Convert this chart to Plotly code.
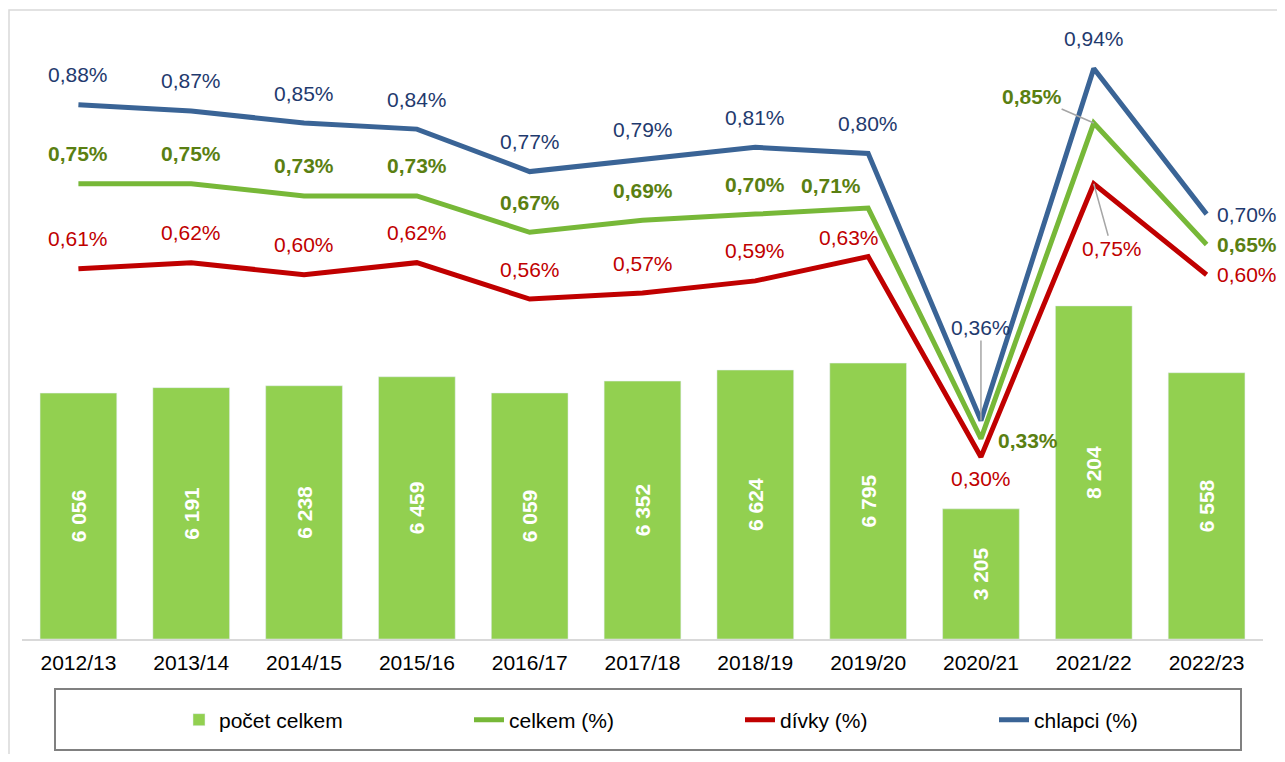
import plotly.graph_objects as go

# ---- data ----
years = ["2012/13", "2013/14", "2014/15", "2015/16", "2016/17", "2017/18",
         "2018/19", "2019/20", "2020/21", "2021/22", "2022/23"]
pocet_celkem = [6056, 6191, 6238, 6459, 6059, 6352, 6624, 6795, 3205, 8204, 6558]
celkem_pct = [0.75, 0.75, 0.73, 0.73, 0.67, 0.69, 0.70, 0.71, 0.33, 0.85, 0.65]
divky_pct = [0.61, 0.62, 0.60, 0.62, 0.56, 0.57, 0.59, 0.63, 0.30, 0.75, 0.60]
chlapci_pct = [0.88, 0.87, 0.85, 0.84, 0.77, 0.79, 0.81, 0.80, 0.36, 0.94, 0.70]

# ---- styles ----
FONT = "Liberation Sans, Arial, sans-serif"
BAR_C = "#92D050"
GREEN_L, GREEN_T = "#77B838", "#5A7F12"
RED_L, RED_T = "#C00000", "#C00000"
BLUE_L, BLUE_T = "#3A6496", "#1F3A6E"

OFF = 8  # page body margin
W, H = 1285 - 2 * OFF, 762 - 2 * OFF
# plot area in screen pixels: x 22..1263, y 32..639
ML, MT = 22 - OFF, 32 - OFF
MR = W - (1263 - OFF)
MB = H - (639 - OFF)
PW, PH = W - ML - MR, H - MT - MB


def px2x(p):
    return (p - OFF - ML) / PW


def px2y(p):
    return (H - MB - (p - OFF)) / PH


def fmt_int(v):
    return f"{v:,}".replace(",", " ")


def fmt_pct(v):
    return f"{v:.2f}%".replace(".", ",")


fig = go.Figure()
fig.add_trace(go.Bar(
    x=years, y=pocet_celkem, name="počet celkem", marker_color=BAR_C,
    text=[fmt_int(v) for v in pocet_celkem], textposition="inside",
    insidetextanchor="middle", textangle=-90,
    textfont=dict(family=FONT, size=21, color="white", weight="bold"),
    legend="legend", hoverinfo="skip"))

series = [
    ("celkem (%)", celkem_pct, GREEN_L, GREEN_T, "bold", "legend2"),
    ("dívky (%)", divky_pct, RED_L, RED_T, "normal", "legend3"),
    ("chlapci (%)", chlapci_pct, BLUE_L, BLUE_T, "normal", "legend4"),
]
for name, vals, lc, tc, wt, lg in series:
    fig.add_trace(go.Scatter(
        x=years, y=vals, name=name, mode="lines", yaxis="y2",
        line=dict(color=lc, width=5), legend=lg, hoverinfo="skip"))

# label offsets (pixels): default above the point
default_off = (0, 30)
special = {
    ("celkem (%)", 7): (-37, 23),
    ("dívky (%)", 7): (-19, 19),
    ("celkem (%)", 8): (47, -2),
    ("dívky (%)", 8): (0, -22),
    ("chlapci (%)", 9): (0, 30),
}
leaders = {
    ("chlapci (%)", 8): (0, -93),
    ("celkem (%)", 9): (-62, -27),
    ("dívky (%)", 9): (18, 65),
}
last = len(years) - 1
for name, vals, lc, tc, wt, lg in series:
    for i, v in enumerate(vals):
        f = dict(family=FONT, size=21, color=tc, weight=wt)
        key = (name, i)
        if key in leaders:
            ax, ay = leaders[key]
            fig.add_annotation(x=years[i], y=v, yref="y2", text=fmt_pct(v),
                               showarrow=True, arrowhead=0, arrowwidth=1.5,
                               arrowcolor="#A6A6A6", ax=ax, ay=ay, standoff=0,
                               font=f)
        elif i == last:
            fig.add_annotation(x=years[i], y=v, yref="y2", text=fmt_pct(v),
                               showarrow=False, xanchor="left", xshift=8,
                               font=f)
        else:
            dx, dy = special.get(key, default_off)
            fig.add_annotation(x=years[i], y=v, yref="y2", text=fmt_pct(v),
                               showarrow=False, xshift=dx, yshift=dy, font=f)

# frame and legend box
fig.add_shape(type="rect", xref="paper", yref="paper",
              x0=px2x(9), x1=px2x(1300), y0=px2y(10), y1=px2y(800),
              line=dict(color="#D9D9D9", width=1.5), layer="below")
fig.add_shape(type="rect", xref="paper", yref="paper",
              x0=px2x(55), x1=px2x(1241), y0=px2y(750), y1=px2y(689),
              line=dict(color="#808080", width=2))

leg_common = dict(orientation="h", yanchor="middle", xanchor="left",
                  y=px2y(720), bgcolor="rgba(0,0,0,0)",
                  font=dict(family=FONT, size=21, color="black"))
text_starts = [221, 511, 782, 1036]
fig.update_layout(
    legend=dict(x=px2x(text_starts[0] - 42), **leg_common),
    legend2=dict(x=px2x(text_starts[1] - 42), **leg_common),
    legend3=dict(x=px2x(text_starts[2] - 42), **leg_common),
    legend4=dict(x=px2x(text_starts[3] - 42), **leg_common),
)

fig.update_layout(
    width=W, height=H,
    margin=dict(l=ML, r=MR, t=MT, b=MB, autoexpand=False),
    paper_bgcolor="white", plot_bgcolor="white",
    bargap=0.32, showlegend=True,
    font=dict(family=FONT, size=21, color="black"),
    xaxis=dict(type="category", range=[-0.5, len(years) - 0.5],
               showline=True, linecolor="#D9D9D9",
               linewidth=2, ticks="", showgrid=False, zeroline=False,
               ticklabelstandoff=4,
               tickfont=dict(family=FONT, size=21, color="black")),
    yaxis=dict(range=[0, 14950], visible=False, showgrid=False),
    yaxis2=dict(range=[0, 1.0], overlaying="y", visible=False,
                showgrid=False),
)

fig.write_html("out.html")
